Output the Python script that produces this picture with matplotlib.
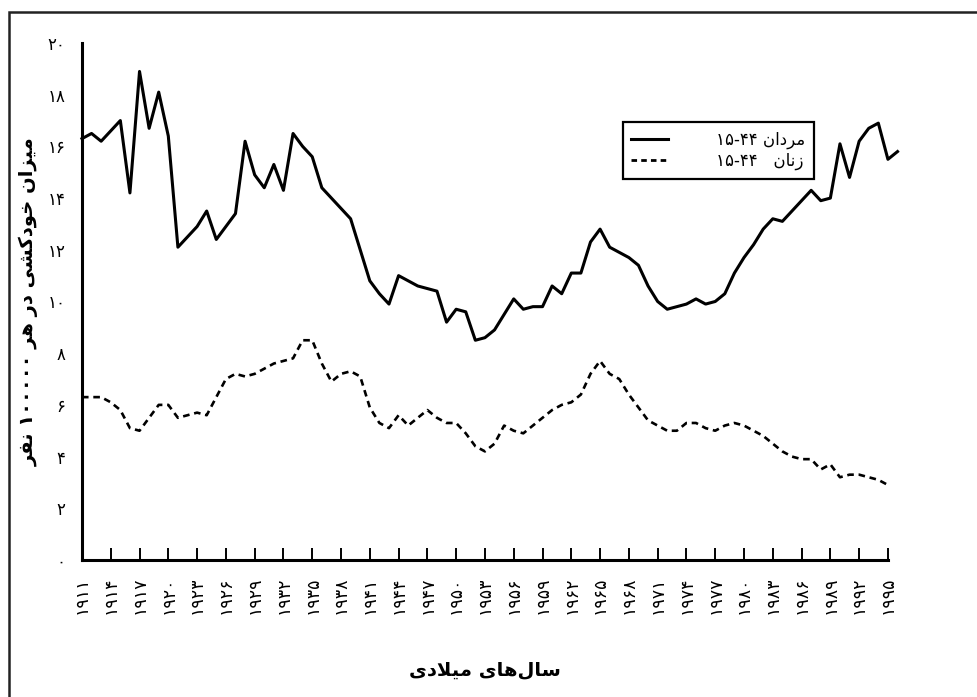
import re
import matplotlib
matplotlib.use('Agg')
import matplotlib.pyplot as plt
from matplotlib.lines import Line2D
from matplotlib.patches import Rectangle

# suicide rate per 100000, ages 15-44
years_men = list(range(1911, 1997))
men = [16.3, 16.5, 16.2, 16.6, 17.0, 14.2, 18.9, 16.7, 18.1, 16.4,
       12.1, 12.5, 12.9, 13.5, 12.4, 12.9, 13.4, 16.2, 14.9, 14.4,
       15.3, 14.3, 16.5, 16.0, 15.6, 14.4, 14.0, 13.6, 13.2, 12.0,
       10.8, 10.3, 9.9, 11.0, 10.8, 10.6, 10.5, 10.4, 9.2, 9.7,
       9.6, 8.5, 8.6, 8.9, 9.5, 10.1, 9.7, 9.8, 9.8, 10.6,
       10.3, 11.1, 11.1, 12.3, 12.8, 12.1, 11.9, 11.7, 11.4, 10.6,
       10.0, 9.7, 9.8, 9.9, 10.1, 9.9, 10.0, 10.3, 11.1, 11.7,
       12.2, 12.8, 13.2, 13.1, 13.5, 13.9, 14.3, 13.9, 14.0, 16.1,
       14.8, 16.2, 16.7, 16.9, 15.5, 15.8]
years_women = list(range(1911, 1996))
women = [6.3, 6.3, 6.3, 6.1, 5.8, 5.1, 5.0, 5.5, 6.0, 6.0,
         5.5, 5.6, 5.7, 5.6, 6.3, 7.0, 7.2, 7.1, 7.2, 7.4,
         7.6, 7.7, 7.8, 8.5, 8.5, 7.6, 6.9, 7.2, 7.3, 7.1,
         5.9, 5.3, 5.1, 5.6, 5.2, 5.5, 5.8, 5.5, 5.3, 5.3,
         4.9, 4.4, 4.2, 4.5, 5.2, 5.0, 4.9, 5.2, 5.5, 5.8,
         6.0, 6.1, 6.4, 7.2, 7.7, 7.2, 7.0, 6.4, 5.9, 5.4,
         5.2, 5.0, 5.0, 5.3, 5.3, 5.1, 5.0, 5.2, 5.3, 5.2,
         5.0, 4.8, 4.5, 4.2, 4.0, 3.9, 3.9, 3.5, 3.7, 3.2,
         3.3, 3.3, 3.2, 3.1, 2.9]
tick_years = list(range(1911, 1996, 3))
y_ticks = list(range(0, 21, 2))

label_men = 'مردان ۱۵-۴۴'
label_women = 'زنان   ۱۵-۴۴'
x_title = 'سال\u200cهای میلادی'
y_title = 'میزان خودکشی در هر ۱۰۰۰۰۰ نفر'

# matplotlib has no arabic shaping, so do it by hand with presentation forms
FORMS = {
    'ا': ('\uFE8D', '\uFE8E', None, None),
    'د': ('\uFEA9', '\uFEAA', None, None),
    'ر': ('\uFEAD', '\uFEAE', None, None),
    'ز': ('\uFEAF', '\uFEB0', None, None),
    'و': ('\uFEED', '\uFEEE', None, None),
    'م': ('\uFEE1', '\uFEE2', '\uFEE3', '\uFEE4'),
    'ن': ('\uFEE5', '\uFEE6', '\uFEE7', '\uFEE8'),
    'خ': ('\uFEA5', '\uFEA6', '\uFEA7', '\uFEA8'),
    'ش': ('\uFEB5', '\uFEB6', '\uFEB7', '\uFEB8'),
    'س': ('\uFEB1', '\uFEB2', '\uFEB3', '\uFEB4'),
    'ف': ('\uFED1', '\uFED2', '\uFED3', '\uFED4'),
    'ل': ('\uFEDD', '\uFEDE', '\uFEDF', '\uFEE0'),
    'ه': ('\uFEE9', '\uFEEA', '\uFEEB', '\uFEEC'),
    'ی': ('\uFBFC', '\uFBFD', '\uFBFE', '\uFBFF'),
    'ک': ('\uFB8E', '\uFB8F', '\uFB90', '\uFB91'),
}
DIGITS = r'[۰-۹]+(?:-[۰-۹]+)*'


def joins_next(c):
    return c in FORMS and FORMS[c][2] is not None


def shape(text):
    out = []
    i = 0
    while i < len(text):
        c = text[i]
        if c not in FORMS:
            if c != '\u200c':
                out.append(c)
            i += 1
            continue
        prev = text[i - 1] if i > 0 else ''
        nxt = text[i + 1] if i + 1 < len(text) else ''
        cp = joins_next(prev)
        if c == 'ل' and nxt == 'ا':
            out.append('\uFEFC' if cp else '\uFEFB')
            i += 2
            continue
        cn = joins_next(c) and nxt in FORMS
        iso, fin, ini, med = FORMS[c]
        out.append(med if cp and cn else fin if cp else ini if cn else iso)
        i += 1
    return ''.join(out)


def rtl(text):
    parts = re.split('(' + DIGITS + ')', shape(text))
    return ''.join(p if re.fullmatch(DIGITS, p) else p[::-1] for p in reversed(parts))


def fa(n):
    return str(n).translate(str.maketrans('0123456789', '۰۱۲۳۴۵۶۷۸۹'))


plt.rcParams['font.family'] = 'DejaVu Sans'
fig = plt.figure(figsize=(9.78, 6.97), dpi=100)
ax = fig.add_axes([0.0838, 0.1966, 0.8241, 0.7417])

ax.plot(years_men, men, color='black', lw=2.2, clip_on=False)
ax.plot(years_women, women, color='black', lw=1.9, dashes=(2.5, 1.8))

ax.set_xlim(1911, 1995)
ax.set_ylim(0, 20)
ax.spines['top'].set_visible(False)
ax.spines['right'].set_visible(False)
ax.spines['left'].set_linewidth(2.2)
ax.spines['bottom'].set_linewidth(2.2)

ax.set_xticks(tick_years)
ax.set_xticklabels([fa(y) for y in tick_years], rotation=90, fontsize=12.5)
ax.tick_params(axis='x', direction='in', length=9, width=1.4, pad=12)
ax.set_yticks(y_ticks)
ax.set_yticklabels([fa(v) for v in y_ticks], fontsize=12)
ax.tick_params(axis='y', length=0, pad=12)

ax.set_xlabel(rtl(x_title), fontsize=14, fontweight='bold', labelpad=33)
ax.set_ylabel(rtl(y_title), fontsize=14, fontweight='bold', labelpad=6)

handles = [Line2D([], [], color='black', lw=2.2),
           Line2D([], [], color='black', lw=2.0, dashes=(2.0, 1.5))]
leg = ax.legend(handles, [rtl(label_men), rtl(label_women)], loc='upper left',
                bbox_to_anchor=(0.671, 0.847), borderaxespad=0, fontsize=12,
                fancybox=False, framealpha=1, edgecolor='black',
                handlelength=2.2, handletextpad=2.9, borderpad=0.5,
                labelspacing=0.2)
leg.get_frame().set_linewidth(1.6)

# page frame, only top and left edges are inside the image
fig.patches.append(Rectangle((9 / 978, -0.2), 1.2, 0.2 + 685 / 697, transform=fig.transFigure,
                             fill=False, lw=1.8, edgecolor='#222222'))

fig.savefig('out.png', dpi=100)
